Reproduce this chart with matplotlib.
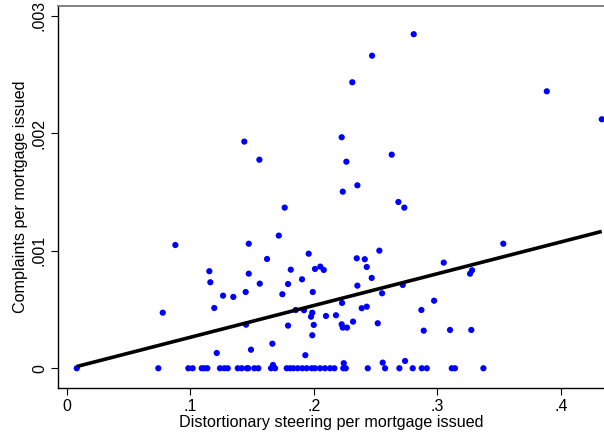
import numpy as np
import matplotlib
matplotlib.use("Agg")
import matplotlib.pyplot as plt

plt.rcParams['font.family'] = ['Liberation Sans', 'DejaVu Sans']

# Points with positive complaints
x_pos = [0.1439, 0.1561, 0.2810, 0.2473, 0.2313, 0.3887, 0.4332, 0.2227, 0.2265, 0.2632,
         0.2354, 0.2236, 0.0779, 0.0881, 0.1156, 0.1164, 0.1196, 0.1267, 0.1350, 0.1216,
         0.1450, 0.1453, 0.1475, 0.1475, 0.1493, 0.1564, 0.1623, 0.1666, 0.1671, 0.1718,
         0.1747, 0.1766, 0.1793, 0.1793, 0.1815, 0.1855, 0.1906, 0.1922, 0.1933, 0.1960,
         0.1979, 0.1989, 0.1993, 0.2001, 0.1989, 0.2011, 0.2054, 0.2082, 0.2100, 0.2181,
         0.2230, 0.2227, 0.2236, 0.2270, 0.2319, 0.2349, 0.2354, 0.2414, 0.2430, 0.2389,
         0.2430, 0.2470, 0.2532, 0.2554, 0.2519, 0.2686, 0.2734, 0.2721, 0.2559, 0.2740,
         0.2244, 0.2872, 0.2975, 0.2891, 0.3053, 0.3104, 0.3276, 0.3266, 0.3282, 0.3535]
y_pos = [0.001929, 0.001775, 0.002843, 0.002660, 0.002434, 0.002357, 0.002119, 0.001966, 0.001758, 0.001818,
         0.001557, 0.001503, 0.000473, 0.001049, 0.000826, 0.000732, 0.000513, 0.000618, 0.000607, 0.000130,
         0.000649, 0.000371, 0.001060, 0.000805, 0.000158, 0.000720, 0.000930, 0.000209, 0.000028, 0.001129,
         0.000630, 0.001367, 0.000717, 0.000363, 0.000839, 0.000496, 0.000757, 0.000494, 0.000111, 0.000975,
         0.000439, 0.000473, 0.000649, 0.000369, 0.000281, 0.000845, 0.000865, 0.000837, 0.000445, 0.000451,
         0.000556, 0.000374, 0.000346, 0.000346, 0.000397, 0.000936, 0.000703, 0.000928, 0.000862, 0.000511,
         0.000524, 0.000769, 0.001001, 0.000638, 0.000383, 0.001415, 0.001367, 0.000709, 0.000048, 0.000062,
         0.000043, 0.000496, 0.000575, 0.000320, 0.000899, 0.000326, 0.000326, 0.000805, 0.000834, 0.001060]

# Points with zero complaints
x_zero = [0.0083, 0.0743, 0.0986, 0.1021, 0.1094, 0.1115, 0.1140, 0.1242, 0.1277, 0.1305,
          0.1386, 0.1418, 0.1459, 0.1471, 0.1520, 0.1552, 0.1655, 0.1688, 0.1782, 0.1809,
          0.1836, 0.1871, 0.1909, 0.1944, 0.1985, 0.2011, 0.2052, 0.2092, 0.2133, 0.2168,
          0.2240, 0.2260, 0.2438, 0.2578, 0.2694, 0.2802, 0.2875, 0.2916, 0.3118, 0.3144,
          0.3374]
y_zero = [0.0] * len(x_zero)

x_ticks = [0, 0.1, 0.2, 0.3, 0.4]
x_tick_labels = ['0', '.1', '.2', '.3', '.4']
y_ticks = [0, 0.001, 0.002, 0.003]
y_tick_labels = ['0', '.001', '.002', '.003']

x_all = np.array(x_pos + x_zero)
y_all = np.array(y_pos + y_zero)
slope, intercept = np.polyfit(x_all, y_all, 1)
xf = np.array([x_all.min(), x_all.max()])
yf = intercept + slope * xf

fig = plt.figure(figsize=(6.04, 4.34), dpi=100)
W, H = 604, 434
ax = fig.add_axes([58 / W, (H - 388) / H, (604 - 58) / W, (388 - 6) / H])

ax.scatter(x_all, y_all, s=20, color='#0000ff', edgecolors='none', zorder=3)
ax.plot(xf, yf, color='black', linewidth=2.6, zorder=4, solid_capstyle='butt')

ax.set_xlim(-0.00688, 0.435)
ax.set_ylim(-0.000168, 0.003083)
ax.set_xticks(x_ticks)
ax.set_xticklabels(x_tick_labels)
ax.set_yticks(y_ticks)
ax.set_yticklabels(y_tick_labels, rotation=90, va='center')

ax.tick_params(axis='both', direction='out', length=5, width=0.8, labelsize=11.5, colors='black')
ax.tick_params(axis='x', pad=3)
ax.tick_params(axis='y', pad=3)

ax.spines['right'].set_visible(False)
ax.spines['top'].set_color('#777777')
ax.spines['top'].set_linewidth(1.3)
ax.spines['left'].set_linewidth(1.0)
ax.spines['bottom'].set_linewidth(1.0)

ax.set_xlabel('Distortionary steering per mortgage issued', fontsize=11.6, labelpad=1)
ax.set_ylabel('Complaints per mortgage issued', fontsize=11.6, labelpad=3)

fig.savefig('out.png', dpi=100)
